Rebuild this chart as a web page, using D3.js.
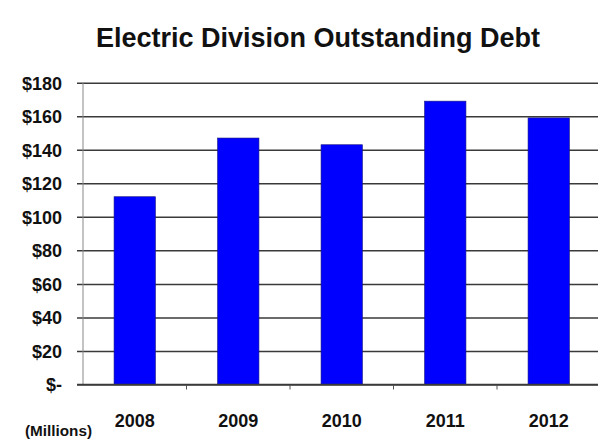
<html>
<head>
<title>Electric Division Outstanding Debt</title>
<script src="https://d3js.org/d3.v7.min.js"></script>
<style>
body { margin: 0; background: #fff; }
svg { display: block; }
text { font-family: "Liberation Sans", Arial, sans-serif; font-weight: bold; fill: #111; }
</style>
</head>
<body>
<svg width="598" height="444"></svg>

<script>
// values (millions of dollars)
var years = ["2008", "2009", "2010", "2011", "2012"];
var debt = [112, 147, 143, 169, 159];
var yTicks = [0, 20, 40, 60, 80, 100, 120, 140, 160, 180];

var svg = d3.select("svg");

// plot area (right side runs past the window edge like the original)
var plotLeft = 83, plotRight = 600.5, plotTop = 82.7, plotBottom = 384.5;

var x = d3.scaleBand().domain(years).range([plotLeft, plotRight]).paddingInner(0.6).paddingOuter(0.3);
var xb = d3.scaleBand().domain(years).range([plotLeft, plotRight]);
var y = d3.scaleLinear().domain([0, 180]).range([plotBottom, plotTop]);

// gridlines + y labels
var yAxis = d3.axisLeft(y).tickValues(yTicks).tickSize(-(plotRight - plotLeft + 6)).tickSizeOuter(0).tickPadding(15)
	.tickFormat(function (d) { return d === 0 ? "$-" : "$" + d; });
var gy = svg.append("g").attr("transform", "translate(" + (plotLeft - 6) + ",0)").call(yAxis);
gy.select(".domain").remove();
gy.selectAll(".tick line").attr("stroke", "#3a3a3a").attr("stroke-width", 1.5);
gy.selectAll(".tick text").attr("font-size", 18).attr("fill", "#111").attr("dy", "0.36em")
	.attr("font-family", null);

// vertical axis line
svg.append("line").attr("x1", plotLeft).attr("x2", plotLeft).attr("y1", plotTop).attr("y2", plotBottom)
	.attr("stroke", "#888").attr("stroke-width", 1);

// bars
svg.selectAll("rect.bar").data(debt).enter().append("rect").attr("class", "bar")
	.attr("x", function (d, i) { return x(years[i]); })
	.attr("width", x.bandwidth())
	.attr("y", function (d) { return y(d); })
	.attr("height", function (d) { return y(0) - y(d); })
	.attr("fill", "#0000ff")
	.attr("stroke", "#1a1a80").attr("stroke-width", 0.6);

// category ticks between bands
svg.selectAll("line.ctick").data(years.slice(1)).enter().append("line").attr("class", "ctick")
	.attr("x1", function (d) { return xb(d); }).attr("x2", function (d) { return xb(d); })
	.attr("y1", plotBottom).attr("y2", plotBottom + 5)
	.attr("stroke", "#555");

// baseline
svg.append("line").attr("x1", plotLeft - 6).attr("x2", plotRight).attr("y1", plotBottom).attr("y2", plotBottom)
	.attr("stroke", "#3a3a3a").attr("stroke-width", 1.5);

// year labels
svg.selectAll("text.year").data(years).enter().append("text").attr("class", "year")
	.attr("x", function (d) { return xb(d) + xb.bandwidth() / 2; })
	.attr("y", 427)
	.attr("text-anchor", "middle")
	.attr("font-size", 18)
	.text(function (d) { return d; });

svg.append("text").attr("x", 25).attr("y", 436).attr("font-size", 14)
	.attr("textLength", 67).attr("lengthAdjust", "spacingAndGlyphs")
	.text("(Millions)");

// title
svg.append("text").attr("x", 318).attr("y", 47).attr("text-anchor", "middle")
	.attr("font-size", 27).attr("fill", "#000")
	.text("Electric Division Outstanding Debt");
</script>
</body>
</html>
